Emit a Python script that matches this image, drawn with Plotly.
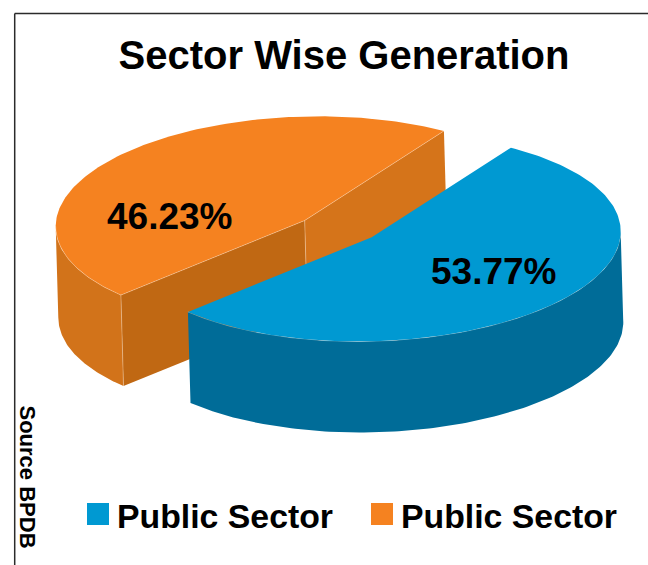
import numpy as np
import plotly.graph_objects as go

# Chart content
SECTORS = ["Public Sector", "Public Sector"]
SHARES = [53.77, 46.23]
TITLE = "Sector Wise Generation"
SOURCE = "Source BPDB"

# Slice palette: top, outer wall, and the two cut faces
TOP = ["#0099D2", "#F58220"]
WALL = ["#006C98", "#D2731A"]
CUT_NEAR = "#C06813"
CUT_FAR = "#D5741A"
EDGE = "rgba(255,235,215,0.45)"

FONT = "Liberation Sans, Arial, sans-serif"

# Pie projection, in pixels of the 648x565 canvas
RX, RY, TILT = 249.0, 104.0, -6.0
HUB = [(371.7, 237.3), (304.7, 220.5)]  # the second slice is pulled out
WALL_DX, WALL_DY = 2.6, 91.0
START_DEG = -56.0


def rim(hub, deg):
    t = np.radians(np.atleast_1d(deg))
    return hub[0] + RX * np.cos(t), hub[1] + RY * np.sin(t) + TILT * np.cos(t)


def polygon(xs, ys, color, name):
    return go.Scatter(x=xs, y=ys, mode="lines", fill="toself", fillcolor=color,
                      line=dict(width=0, color=color), hoverinfo="skip",
                      showlegend=False, name=name)


def edge(xs, ys):
    return go.Scatter(x=xs, y=ys, mode="lines", line=dict(width=0.8, color=EDGE),
                      hoverinfo="skip", showlegend=False)


sweep = [s / sum(SHARES) * 360.0 for s in SHARES]
blue_a, blue_b = START_DEG, START_DEG + sweep[0]
orange_a, orange_b = blue_b, blue_b + sweep[1]

fig = go.Figure()

# Pulled-out slice: outer wall, the two cut faces, then the top
hub = HUB[1]
arc = np.linspace(orange_a, 180.0, 60)
ax, ay = rim(hub, arc)
fig.add_trace(polygon(np.r_[ax, ax[::-1] + WALL_DX], np.r_[ay, ay[::-1] + WALL_DY], WALL[1], SECTORS[1]))

cx, cy = rim(hub, orange_a)
ex, ey = rim(hub, orange_b)
fig.add_trace(polygon([cx[0], hub[0], hub[0] + WALL_DX, cx[0] + WALL_DX],
                      [cy[0], hub[1], hub[1] + WALL_DY, cy[0] + WALL_DY], CUT_NEAR, SECTORS[1]))
fig.add_trace(polygon([hub[0], ex[0], ex[0] + WALL_DX, hub[0] + WALL_DX],
                      [hub[1], ey[0], ey[0] + WALL_DY, hub[1] + WALL_DY], CUT_FAR, SECTORS[1]))

arc = np.linspace(orange_a, orange_b, 160)
ax, ay = rim(hub, arc)
fig.add_trace(polygon(np.r_[hub[0], ax], np.r_[hub[1], ay], TOP[1], SECTORS[1]))
fig.add_trace(edge(np.r_[ex, hub[0], cx], np.r_[ey, hub[1], cy]))
fig.add_trace(edge([cx[0], cx[0] + WALL_DX], [cy[0], cy[0] + WALL_DY]))
fig.add_trace(edge([hub[0], hub[0] + WALL_DX], [hub[1], hub[1] + WALL_DY]))
arc = np.linspace(orange_a, 180.0, 60)
ax, ay = rim(hub, arc)
fig.add_trace(edge(ax, ay))

# Front slice: outer wall, then the top
hub = HUB[0]
arc = np.linspace(-2.0, blue_b, 140)
ax, ay = rim(hub, arc)
fig.add_trace(polygon(np.r_[ax, ax[::-1] + WALL_DX], np.r_[ay, ay[::-1] + WALL_DY], WALL[0], SECTORS[0]))
fig.add_trace(edge(ax, ay))

arc = np.linspace(blue_a, blue_b, 180)
ax, ay = rim(hub, arc)
fig.add_trace(polygon(np.r_[hub[0], ax], np.r_[hub[1], ay], TOP[0], SECTORS[0]))

# Value labels on the slice tops
for share, px, py in zip(SHARES, [494.0, 170.0], [271.0, 216.0]):
    fig.add_annotation(x=px, y=py, text=f"<b>{share:.2f}%</b>", showarrow=False,
                       font=dict(family=FONT, size=37, color="#000000"))

# Legend row
for label, color, x0 in zip(SECTORS, TOP, [87.0, 371.0]):
    fig.add_shape(type="rect", x0=x0, x1=x0 + 22, y0=503, y1=525, fillcolor=color, line_width=0)
    fig.add_annotation(x=x0 + 27.5, y=516, text=f"<b>{label}</b>", showarrow=False, xanchor="left",
                       font=dict(family=FONT, size=33.8, color="#000000"))

# Source note, reading downwards beside the frame
fig.add_annotation(x=27, y=476.5, text=f"<b>{SOURCE}</b>", showarrow=False, textangle=90,
                   font=dict(family=FONT, size=22, color="#000000"))

# Frame along the top and left
frame = dict(color="#2b2b2b", width=1.5)
fig.add_shape(type="line", x0=14.7, x1=648, y0=13.5, y1=13.5, line=frame)
fig.add_shape(type="line", x0=14.7, x1=14.7, y0=13.5, y1=565, line=frame)

fig.update_layout(
    width=648, height=565,
    margin=dict(l=0, r=0, t=0, b=0),
    paper_bgcolor="#FFFFFF", plot_bgcolor="#FFFFFF",
    showlegend=False,
    title=dict(text=f"<b>{TITLE}</b>", x=344 / 648, y=1 - 55 / 565, xanchor="center", yanchor="middle",
               font=dict(family=FONT, size=40, color="#000000")),
    xaxis=dict(range=[0, 648], visible=False, fixedrange=True),
    yaxis=dict(range=[565, 0], visible=False, fixedrange=True),
)

fig.write_html("out.html", config={"displayModeBar": False})
